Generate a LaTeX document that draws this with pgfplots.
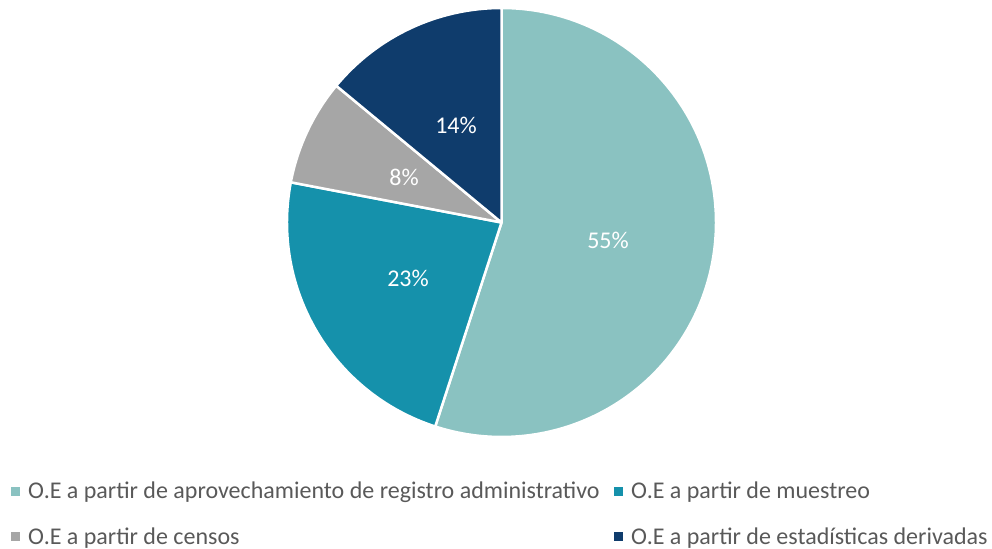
\documentclass[border=0pt]{standalone}
\usepackage{pgfplots}
\pgfplotsset{compat=1.18}
\usepackage{fontspec}
\setmainfont{Carlito}
\definecolor{cA}{HTML}{8AC2C1}
\definecolor{cB}{HTML}{1591AB}
\definecolor{cC}{HTML}{A6A6A6}
\definecolor{cD}{HTML}{0F3C6C}
\definecolor{txt}{HTML}{595959}
% values (percent)
\def\vA{55}\def\vB{23}\def\vC{8}\def\vD{14}
\def\cx{501.5}\def\cy{326.5}\def\R{214.5}
\begin{document}
\begin{tikzpicture}
\pgfmathsetmacro{\aA}{90}
\pgfmathsetmacro{\aB}{\aA-3.6*\vA}
\pgfmathsetmacro{\aC}{\aB-3.6*\vB}
\pgfmathsetmacro{\aD}{\aC-3.6*\vC}
\pgfmathsetmacro{\aE}{\aD-3.6*\vD}
\begin{axis}[scale only axis, width=992bp, height=549bp,
  xmin=0, xmax=992, ymin=0, ymax=549, hide axis, clip=false,
  font=\fontsize{24bp}{28bp}\selectfont]
\path (axis cs:0,0) rectangle (axis cs:992,549);
\tikzset{wedge/.style={draw=white, line width=2.5bp, line join=round}}
\fill[cA, wedge] (axis cs:\cx,\cy) -- (axis cs:{\cx+\R*cos(\aA)},{\cy+\R*sin(\aA)}) arc[start angle=\aA, end angle=\aB, radius=\R bp] -- cycle;
\fill[cB, wedge] (axis cs:\cx,\cy) -- (axis cs:{\cx+\R*cos(\aB)},{\cy+\R*sin(\aB)}) arc[start angle=\aB, end angle=\aC, radius=\R bp] -- cycle;
\fill[cC, wedge] (axis cs:\cx,\cy) -- (axis cs:{\cx+\R*cos(\aC)},{\cy+\R*sin(\aC)}) arc[start angle=\aC, end angle=\aD, radius=\R bp] -- cycle;
\fill[cD, wedge] (axis cs:\cx,\cy) -- (axis cs:{\cx+\R*cos(\aD)},{\cy+\R*sin(\aD)}) arc[start angle=\aD, end angle=\aE, radius=\R bp] -- cycle;
% data labels
\node[white, anchor=base, inner sep=0pt] at (axis cs:608,{549-248.5}) {55\%};
\node[white, anchor=base, inner sep=0pt] at (axis cs:408,{549-287}) {23\%};
\node[white, anchor=base, inner sep=0pt] at (axis cs:404,{549-186}) {8\%};
\node[white, anchor=base, inner sep=0pt] at (axis cs:456,{549-133.5}) {14\%};
% legend
\fill[cA] (axis cs:11,{549-487}) rectangle (axis cs:20,{549-496});
\node[txt, anchor=base west, inner sep=0pt] at (axis cs:28,{549-499}) {O.E a partir de aprovechamiento de registro administrativo};
\fill[cB] (axis cs:614,{549-487}) rectangle (axis cs:623,{549-496});
\node[txt, anchor=base west, inner sep=0pt] at (axis cs:631,{549-499}) {O.E a partir de muestreo};
\fill[cC] (axis cs:11,{549-532}) rectangle (axis cs:20,{549-541});
\node[txt, anchor=base west, inner sep=0pt] at (axis cs:28,{549-544}) {O.E a partir de censos};
\fill[cD] (axis cs:614,{549-532}) rectangle (axis cs:623,{549-541});
\node[txt, anchor=base west, inner sep=0pt] at (axis cs:631,{549-544}) {O.E a partir de estadísticas derivadas};
\end{axis}
\end{tikzpicture}
\end{document}
